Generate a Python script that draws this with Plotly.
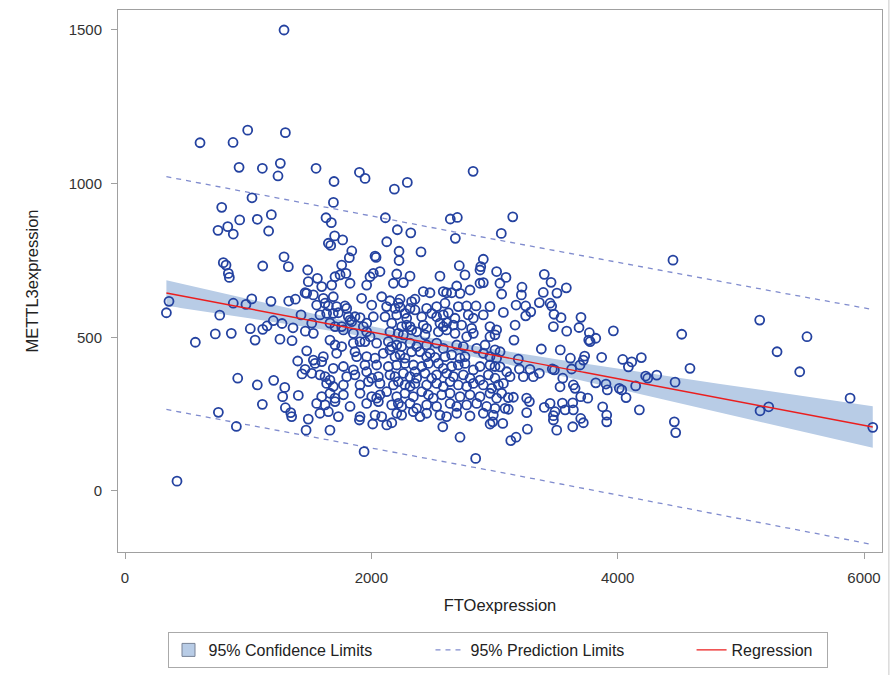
import numpy as np
import plotly.graph_objects as go

# FTO expression (x) and METTL3 expression (y)
fto = [
    1291, 609, 877, 996, 1302, 926, 1115, 1261, 1242, 1031, 785, 931, 1074, 1188, 755, 834, 879, 1166,
    798, 820, 1118, 1291, 1326, 1483,
    1551, 1903, 1949, 1697, 2826, 2187, 2292, 1692, 1632, 1675, 2114, 2211, 2320, 2641, 2698,
    2682, 3055, 1702, 1767, 1651, 1670, 2125, 1841, 1821, 2030, 2038, 2225, 2225, 2403,
    1759, 2714, 2909, 2888,
    3148, 4449,
    839, 847, 1488, 1462, 1475, 357, 336, 769, 879, 982, 1029, 1185, 1329, 1383, 1429, 1204, 1275,
    1153, 1118, 1017, 1364, 1464, 733, 863, 571, 1056, 1258, 1356, 1475, 1402, 1462, 1437, 915,
    1074, 1207, 1297, 1280, 1407, 1115, 1302, 1345, 1353, 758, 1488,
    904, 1470, 422, 1664, 1903, 2011, 2125, 2166, 1941, 2580, 2720, 2847, 2964, 2985,
    3067, 3132, 3175, 3267, 3505, 3478, 3635, 3721, 3911, 4460, 4471, 6071,
    4587, 5153, 5537, 5294, 5478, 5887, 5156, 5226,
    3093, 3404, 3459, 3223, 3218, 3058, 3396, 3507, 3583, 3175, 3253, 3364, 3451, 3464, 3072, 3294,
    3253, 3483, 3540, 3702, 3167, 3478, 3686, 3586, 3770, 3765, 3776, 3822, 3965, 4520, 3158, 3380,
    3534, 3045, 3616, 3732, 3721, 3694, 3870, 4041, 4114, 4087, 4192, 3193, 3469, 3486, 3626,
    3045, 3099, 3126, 3202, 3288, 3234, 3315, 3364, 3554, 3640, 3532, 3654, 3822, 3905, 3916, 4013,
    4033, 4068, 4146, 4227, 4244, 4317, 4466, 3072, 3058, 3153, 3112, 3261, 3283, 3085, 3112, 3261,
    3404, 3451, 3551, 3635, 3700, 3757, 3573, 3640, 3491, 3478, 3878, 4176, 3700, 3911,
    1562, 1705, 1746, 1794, 1989, 2016, 2070, 2206, 2314, 2557, 2760, 2882, 3017,
    1597, 1678, 1827, 1962, 2179, 2260, 2693, 2882, 2909, 3044,
    1529, 1610, 1691, 1921, 2084, 2151, 2233, 2327, 2354, 2422, 2476, 2584, 2611, 2652, 2720, 2801,
    1556, 1624, 1651, 1718, 1786, 1800, 2003, 2124, 2192, 2219, 2233, 2314, 2354, 2449, 2530, 2598,
    2706, 2774, 2850, 2963,
    1583, 1637, 1691, 1732, 1813, 1867, 1908, 2016, 2111, 2206, 2273, 2287, 2409, 2490, 2530, 2584,
    2625, 2679, 2787, 2828, 2909,
    1516, 1664, 1705, 1759, 1827, 1840, 1935, 1962, 2165, 2246, 2287, 2314, 2422, 2449, 2557, 2584,
    2611, 2666, 2733, 2814, 2963, 3017,
    1529, 1773, 1854, 1962, 1989, 2151, 2219, 2260, 2327, 2368, 2436, 2544, 2611, 2679, 2774, 2828,
    2963, 3004,
    1664, 1705, 1759, 1854, 1908, 1948, 2043, 2138, 2165, 2206, 2246, 2314, 2368, 2449, 2530, 2584,
    2693, 2747, 2855, 2923, 3004,
    1610, 1718, 1867, 1881, 1962, 2030, 2097, 2151, 2192, 2233, 2273, 2327, 2395, 2449, 2476, 2517,
    2598, 2652, 2720, 2760, 2909, 2963, 3017,
    1529, 1597, 1543, 1691, 1773, 1854, 1948, 2043, 2138, 2206, 2273, 2341, 2409, 2463, 2544, 2584,
    2652, 2706, 2760, 2828, 2882, 2963, 3004,
    1516, 1583, 1624, 1664, 1800, 1867, 1962, 2003, 2057, 2151, 2192, 2260, 2314, 2354, 2368, 2436,
    2490, 2530, 2611, 2666, 2747, 2801, 2882, 2950, 3004,
    1637, 1691, 1773, 1908, 1976, 2070, 2179, 2219, 2273, 2314, 2354, 2449, 2530, 2584, 2639, 2706,
    2774, 2828, 2909, 2977, 3031,
    1597, 1664, 1705, 1773, 1908, 2003, 2043, 2070, 2124, 2206, 2273, 2341, 2409, 2463, 2503, 2571,
    2639, 2720, 2801, 2882, 2963, 3017,
    1556, 1624, 1705, 1827, 1962, 2057, 2165, 2219, 2246, 2314, 2368, 2449, 2530, 2639, 2693, 2774,
    2855, 2936, 3004,
    1583, 1651, 1732, 1908, 2030, 2084, 2206, 2246, 2341, 2395, 2449, 2557, 2611, 2693, 2801, 2909, 2990,
]

mettl3 = [
    1500, 1133, 1134, 1174, 1166, 1053, 1050, 1066, 1025, 954, 923, 882, 884, 899, 848, 860, 836, 846,
    743, 735, 732, 762, 730, 719,
    1050, 1037, 1017, 1007, 1040, 982, 1004, 939, 889, 873, 889, 850, 840, 885, 890,
    822, 838, 830, 817, 806, 799, 811, 781, 759, 764, 760, 780, 750, 778,
    735, 733, 754, 730,
    892, 751,
    708, 695, 681, 645, 643, 617, 580, 572, 611, 607, 625, 617, 618, 624, 573, 554, 545,
    537, 526, 528, 531, 520, 511, 513, 484, 491, 494, 489, 456, 423, 396, 381, 367,
    345, 360, 337, 307, 311, 282, 271, 255, 242, 256, 234,
    210, 198, 32, 198, 231, 218, 215, 222, 128, 209, 175, 106, 218, 225,
    220, 164, 175, 201, 198, 231, 209, 222, 225, 225, 190, 207,
    399, 556, 502, 453, 388, 302, 261, 274,
    695, 705, 679, 663, 638, 641, 646, 644, 661, 605, 602, 613, 611, 602, 581, 583,
    570, 575, 564, 565, 540, 535, 532, 520, 515, 491, 486, 497, 521, 510, 491, 462,
    459, 453, 432, 439, 426, 410, 435, 428, 420, 404, 434, 429, 397, 394, 397,
    404, 388, 372, 397, 396, 372, 372, 383, 367, 345, 339, 334, 352, 348, 329, 334,
    329, 304, 342, 374, 367, 377, 354, 350, 318, 305, 304, 302, 291, 269, 266, 255,
    272, 285, 286, 287, 307, 302, 264, 264, 258, 245, 274, 264, 236, 247,
    692, 697, 703, 708, 697, 708, 714, 706, 699, 699, 703, 719, 714,
    665, 670, 676, 670, 676, 678, 667, 676, 678, 676,
    638, 627, 632, 627, 632, 619, 624, 616, 624, 649, 645, 649, 645, 645, 643, 654,
    605, 611, 602, 600, 602, 594, 605, 600, 594, 611, 598, 594, 589, 594, 600, 611,
    600, 602, 602, 600,
    573, 578, 578, 580, 567, 567, 564, 567, 567, 573, 578, 562, 567, 578, 567, 573,
    580, 562, 573, 562, 573,
    546, 546, 535, 535, 556, 551, 535, 546, 546, 535, 540, 535, 540, 529, 546, 535,
    548, 540, 540, 529, 535, 524,
    513, 524, 513, 518, 502, 518, 513, 508, 524, 518, 508, 518, 524, 513, 502, 513,
    502, 508,
    491, 475, 470, 481, 486, 486, 481, 486, 470, 475, 470, 481, 470, 475, 481, 464,
    475, 470, 464, 475, 459,
    437, 448, 453, 437, 437, 432, 448, 459, 437, 443, 432, 453, 453, 437, 448, 435,
    437, 443, 432, 437, 448, 437, 432,
    426, 421, 415, 399, 405, 394, 410, 410, 405, 410, 415, 410, 405, 415, 415, 399,
    405, 410, 415, 394, 405, 410, 405,
    383, 378, 372, 361, 372, 378, 388, 367, 372, 378, 372, 383, 372, 388, 367, 383,
    367, 378, 383, 372, 378, 367, 361, 378, 367,
    350, 340, 345, 345, 356, 350, 345, 356, 345, 340, 350, 345, 350, 340, 356, 345,
    340, 350, 345, 334, 345,
    307, 318, 302, 313, 318, 307, 302, 313, 323, 307, 318, 307, 323, 313, 302, 313,
    318, 307, 313, 307, 318, 302,
    285, 280, 291, 275, 285, 291, 280, 285, 275, 285, 269, 280, 275, 285, 275, 280,
    285, 275, 269,
    253, 258, 242, 242, 247, 242, 253, 247, 258, 242, 253, 247, 242, 253, 244, 253, 247,
]

# regression line end values
fit_x_ends = [336, 6071]
fit_y_ends = [644, 208]

x_ticks = [0, 2000, 4000, 6000]
y_ticks = [0, 500, 1000, 1500]

# ---- regression line, 95% confidence and prediction limits ----
x = np.array(fto, dtype=float)
y = np.array(mettl3, dtype=float)
n = len(x)
b1 = (fit_y_ends[1] - fit_y_ends[0]) / (fit_x_ends[1] - fit_x_ends[0])
b0 = fit_y_ends[0] - b1 * fit_x_ends[0]
xbar = x.mean()
sxx = ((x - xbar) ** 2).sum()
resid = y - (b0 + b1 * x)
s = np.sqrt((resid ** 2).sum() / (n - 2))
tval = 1.965
grid = np.linspace(fit_x_ends[0], fit_x_ends[1], 200)
fit = b0 + b1 * grid
se_mean = s * np.sqrt(1.0 / n + (grid - xbar) ** 2 / sxx)
se_pred = s * np.sqrt(1.0 + 1.0 / n + (grid - xbar) ** 2 / sxx)
cl_lo, cl_hi = fit - tval * se_mean, fit + tval * se_mean
pl_lo, pl_hi = fit - tval * se_pred, fit + tval * se_pred

FONT = "Liberation Sans, Arial, sans-serif"
BAND = "rgb(184,204,230)"
PRED = "rgb(128,140,206)"
MARK = "rgb(36,66,160)"

def pad(k):
    return "&nbsp;" * k

fig = go.Figure()
fig.add_trace(go.Scatter(
    x=np.concatenate([grid, grid[::-1]]), y=np.concatenate([cl_hi, cl_lo[::-1]]),
    fill="toself", fillcolor=BAND, line=dict(width=0, color=BAND), mode="lines",
    name="95% Confidence Limits", hoverinfo="skip", showlegend=False))
# legend entry for the confidence band (square swatch)
fig.add_trace(go.Scatter(
    x=[None], y=[None], mode="markers", name="95% Confidence Limits" + pad(12),
    marker=dict(symbol="square", size=13, color=BAND, line=dict(color="rgb(120,130,150)", width=1))))
fig.add_trace(go.Scatter(
    x=grid, y=pl_hi, mode="lines", line=dict(color=PRED, width=1.3, dash="5px,5px"),
    name="95% Prediction Limits" + pad(14), legendgroup="pl"))
fig.add_trace(go.Scatter(
    x=grid, y=pl_lo, mode="lines", line=dict(color=PRED, width=1.3, dash="5px,5px"),
    name="95% Prediction Limits", legendgroup="pl", showlegend=False))
fig.add_trace(go.Scatter(
    x=fto, y=mettl3, mode="markers", showlegend=False, name="",
    marker=dict(symbol="circle-open", size=9, color=MARK, line=dict(width=1.8, color=MARK))))
fig.add_trace(go.Scatter(
    x=grid, y=fit, mode="lines", line=dict(color="rgb(235,30,30)", width=1.4),
    name="Regression" + pad(2)))

axis_common = dict(
    showgrid=False, zeroline=False, showline=True, mirror=True,
    linecolor="rgb(160,160,160)", linewidth=1,
    ticks="outside", ticklen=6, tickcolor="rgb(160,160,160)",
    tickfont=dict(family=FONT, size=15, color="#333333"),
    automargin=False,
)
fig.update_xaxes(range=[-57, 6146], tickvals=x_ticks, ticktext=[str(v) for v in x_ticks],
                 ticklabelstandoff=6,
                 title=dict(text="FTOexpression", font=dict(family=FONT, size=16.5, color="#222222"), standoff=14),
                 **axis_common)
fig.update_yaxes(range=[-198.5, 1565], tickvals=y_ticks, ticktext=[str(v) for v in y_ticks],
                 ticklabelstandoff=6,
                 title=dict(text="METTL3expression", font=dict(family=FONT, size=16.5, color="#222222"), standoff=25),
                 **axis_common)

fig.update_layout(
    width=891, height=675,
    margin=dict(l=118, r=9, t=10, b=123, autoexpand=False),
    paper_bgcolor="white", plot_bgcolor="white",
    font=dict(family=FONT, size=16, color="#222222"),
    showlegend=True,
    legend=dict(orientation="h", xref="container", yref="container",
                x=497.5 / 891, xanchor="center", y=1 - 632 / 675, yanchor="top",
                bordercolor="rgb(170,170,170)", borderwidth=1,
                font=dict(family=FONT, size=16, color="#222222"),
                traceorder="normal"),
    shapes=[dict(type="rect", xref="paper", yref="paper", x0=-0.16, x1=1.009, y0=-0.23, y1=1.02,
                 line=dict(color="rgb(200,200,200)", width=1), layer="below")],
)

fig.write_html("out.html")
